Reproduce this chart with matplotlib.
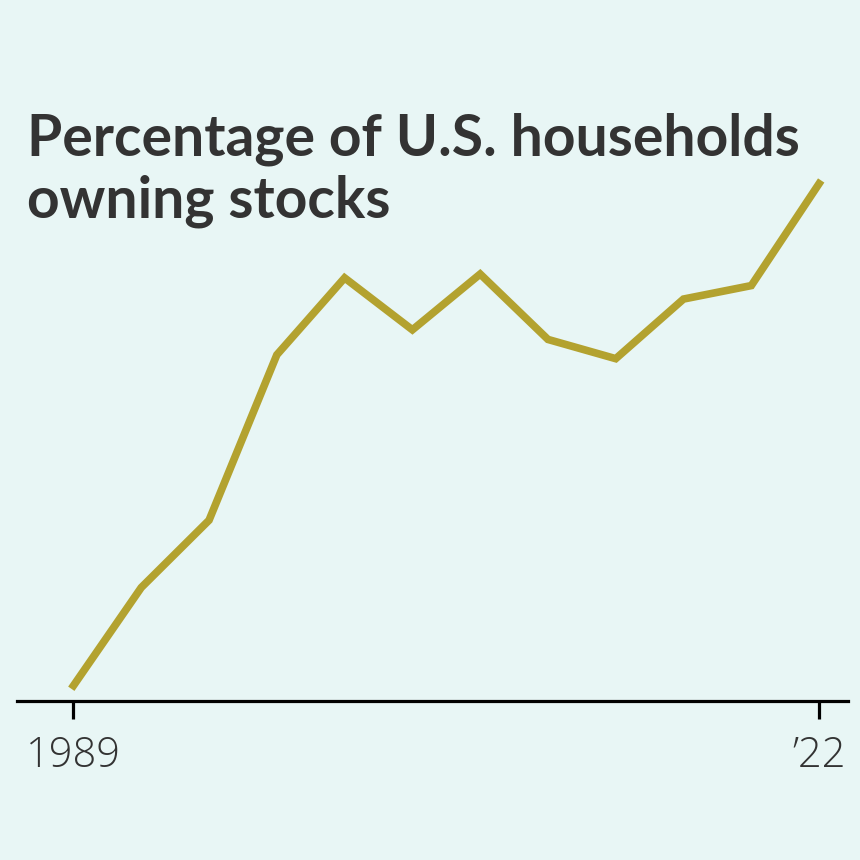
import matplotlib
matplotlib.use("Agg")
import matplotlib.pyplot as plt

# survey years and share of households owning stocks (%)
years = [1989, 1992, 1995, 1998, 2001, 2004, 2007, 2010, 2013, 2016, 2019, 2022]
share = [31.9, 37.0, 40.5, 49.1, 53.1, 50.4, 53.3, 49.9, 48.9, 52.0, 52.7, 58.0]
tick_years = [1989, 2022]
tick_labels = ["1989", "\u201922"]

bg = "#e8f6f5"
line_col = "#b3a22f"
text_col = "#333333"

fig = plt.figure(figsize=(8.6, 8.6), dpi=100, facecolor=bg)
ax = fig.add_axes([17 / 860, 159 / 860, 831 / 860, 601 / 860], facecolor=bg)

ax.plot(years, share, color=line_col, lw=5.5, solid_joinstyle="miter", clip_on=False)

ax.set_xlim(1986.5, 2023.28)
ax.set_ylim(31.1, 62.35)

for s in ["top", "right", "left"]:
    ax.spines[s].set_visible(False)
ax.spines["bottom"].set_linewidth(2.3)
ax.spines["bottom"].set_color("black")
ax.set_yticks([])
ax.set_xticks(tick_years)
ax.set_xticklabels(tick_labels, fontsize=30, fontfamily="Open Sans",
                   fontweight="light", color=text_col)
ax.tick_params(axis="x", length=13, width=2.3, color="black", pad=11)

fig.text(27 / 860, 1 - 112 / 860, "Percentage of U.S. households\nowning stocks",
         fontsize=41, fontfamily="Lato", fontweight="bold", color=text_col,
         va="top", ha="left", linespacing=1.2)

fig.savefig("out.png", dpi=100, facecolor=bg)
